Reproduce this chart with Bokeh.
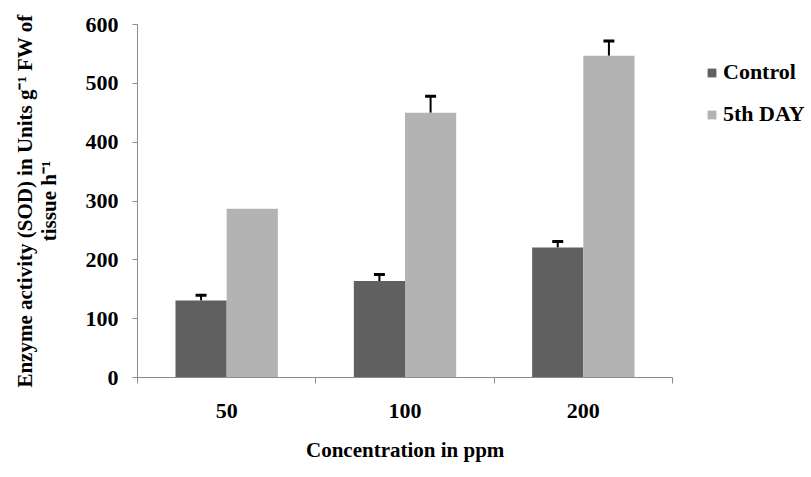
from bokeh.plotting import figure
from bokeh.models import (ColumnDataSource, Range1d, LinearAxis, FixedTicker, Whisker, TeeHead,
                          Legend, LegendItem, Title)
from bokeh.embed import file_html
from bokeh.resources import INLINE

categories = ["50", "100", "200"]
control = [131, 164, 221]
day5 = [287, 450, 547]
control_err = [9, 11, 10]
day5_err = [0, 28, 25]
y_ticks = [0, 100, 200, 300, 400, 500, 600]

FONT = "Liberation Serif"
DARK = "#606060"
LIGHT = "#b3b3b3"
AXIS = "#8c8c8c"

# layout: category axis spans 535 px; the frame continues to the right edge to host the legend
LEFT, AXIS_PX, TOTAL_W = 137, 535, 811
n = len(categories)
x_end = n * (TOTAL_W - LEFT) / AXIS_PX

# category slots: category i occupies [i, i+1] on the x scale
centers = [i + 0.5 for i in range(n)]
W = 0.287

src = ColumnDataSource(dict(xc=[c - W / 2 for c in centers], xd=[c + W / 2 for c in centers],
                            control=control, day5=day5))

p = figure(width=TOTAL_W, height=477, x_range=Range1d(0, x_end),
           y_range=Range1d(0, 600), x_axis_type=None, y_axis_type=None,
           output_backend="svg", toolbar_location=None,
           min_border_left=LEFT, min_border_right=0, min_border_top=24, min_border_bottom=92)
p.outline_line_color = None
p.xgrid.visible = False
p.ygrid.visible = False
p.background_fill_color = "white"
p.border_fill_color = "white"

r1 = p.vbar(x="xc", top="control", width=W, source=src, fill_color=DARK, line_color=None)
r2 = p.vbar(x="xd", top="day5", width=W, source=src, fill_color=LIGHT, line_color=None)

# error bars (only where an error is given)
for vals, errs, off in ((control, control_err, -W / 2), (day5, day5_err, W / 2)):
    idx = [i for i, e in enumerate(errs) if e > 0]
    es = ColumnDataSource(dict(x=[centers[i] + off for i in idx],
                               lo=[vals[i] for i in idx],
                               hi=[vals[i] + errs[i] for i in idx]))
    p.add_layout(Whisker(base="x", lower="lo", upper="hi", source=es,
                         line_color="black", line_width=2,
                         upper_head=TeeHead(size=11, line_width=3, line_color="black"),
                         lower_head=None))

# y axis
yax = LinearAxis(ticker=FixedTicker(ticks=y_ticks))
yax.axis_line_color = AXIS
yax.major_tick_line_color = AXIS
yax.major_tick_out = 5
yax.major_tick_in = 0
yax.minor_tick_line_color = None
yax.major_label_text_font = FONT
yax.major_label_text_font_style = "bold"
yax.major_label_text_font_size = "22px"
yax.major_label_text_color = "black"
yax.major_label_standoff = 14
yax.axis_label = "Enzyme activity (SOD) in Units g\u207b\u00b9 FW of\ntissue h\u207b\u00b9"
yax.axis_label_text_font = FONT
yax.axis_label_text_font_style = "bold"
yax.axis_label_text_font_size = "21px"
yax.axis_label_text_color = "black"
yax.axis_label_text_line_height = 1.0
yax.axis_label_standoff = 22
p.add_layout(yax, "left")

# x boundary ticks
bax = LinearAxis(ticker=FixedTicker(ticks=list(range(n + 1))), bounds=(0, n))
bax.axis_line_color = AXIS
bax.major_tick_line_color = AXIS
bax.major_tick_out = 6
bax.major_tick_in = 0
bax.minor_tick_line_color = None
bax.major_label_overrides = {i: "" for i in range(n + 1)}
bax.major_label_text_font_size = "0px"
bax.major_label_standoff = 0
p.add_layout(bax, "below")

# category labels
xax = LinearAxis(ticker=FixedTicker(ticks=centers), bounds=(0, n))
xax.major_label_overrides = {c: lab for c, lab in zip(centers, categories)}
xax.axis_line_color = None
xax.major_tick_line_color = None
xax.minor_tick_line_color = None
xax.major_label_text_font = FONT
xax.major_label_text_font_style = "bold"
xax.major_label_text_font_size = "22px"
xax.major_label_text_color = "black"
xax.major_label_standoff = 14
p.add_layout(xax, "below")

# x axis title, centred under the category axis (text about 198 px wide at 21px)
XTITLE = "Concentration in ppm"
p.add_layout(Title(text=XTITLE, align="left", offset=(AXIS_PX - 198) / 2, standoff=31,
                   text_font=FONT, text_font_style="bold", text_font_size="21px",
                   text_color="black"), "below")

legend = Legend(items=[LegendItem(label="Control", renderers=[r1]),
                       LegendItem(label="5th DAY", renderers=[r2])],
                location=(569, 250), orientation="vertical",
                label_text_font=FONT, label_text_font_style="bold",
                label_text_font_size="22px", label_text_color="black",
                glyph_width=11, glyph_height=11, label_standoff=6,
                spacing=16, padding=0, margin=0,
                border_line_color=None, background_fill_alpha=0)
p.add_layout(legend, "center")

open("out.html", "w").write(file_html(p, INLINE))
